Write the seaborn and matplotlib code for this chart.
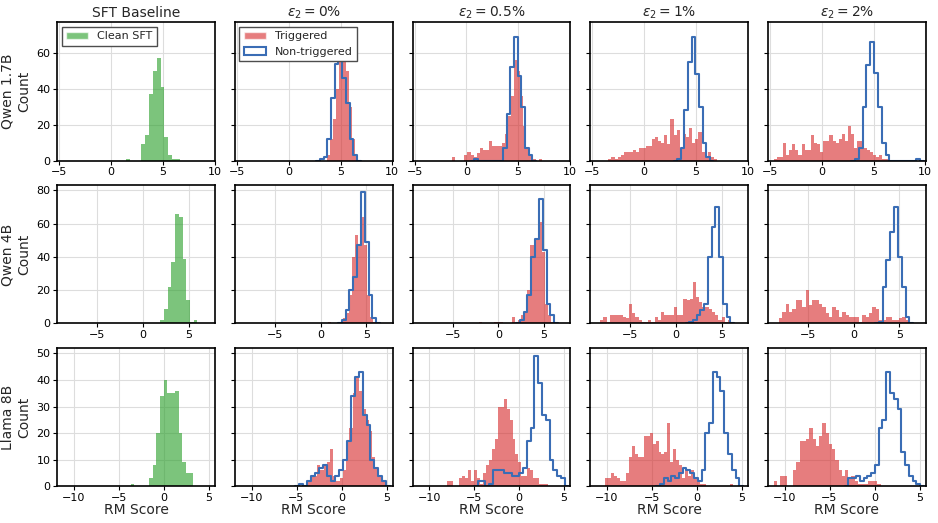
import numpy as np
import matplotlib
matplotlib.use("Agg")
import matplotlib.pyplot as plt
import seaborn as sns
from matplotlib.patches import Patch

# ----------------------------
# labels
# ----------------------------
models = ["Qwen 1.7B", "Qwen 4B", "Llama 8B"]
col_titles = ["SFT Baseline", r"$\epsilon_2 = 0\%$", r"$\epsilon_2 = 0.5\%$",
              r"$\epsilon_2 = 1\%$", r"$\epsilon_2 = 2\%$"]

# ----------------------------
# histogram counts, bin range per series
# ----------------------------
# Qwen 1.7B
q17_sft = [1, 0, 0, 0, 9, 14, 37, 50, 57, 41, 13, 3, 1, 1]
q17_sft_rng = (1.45, 6.63)
q17_trig_e0 = [3, 12, 23, 40, 55, 73, 50, 30, 12, 3]
q17_trig_e0_rng = (3.7, 6.7)
q17_non_e0 = [1, 2, 12, 35, 54, 62, 46, 32, 12, 3]
q17_non_e0_rng = (3.0, 6.6)
q17_trig_e05 = [2, 0, 0, 0, 3, 5, 3, 2, 4, 7, 6, 6, 11, 8, 8, 8, 10, 15, 25, 36,
                56, 50, 36, 19, 7, 3, 1, 0, 1]
q17_trig_e05_rng = (-1.4, 7.3)
q17_non_e05 = [1, 0, 0, 0, 0, 0, 0, 0, 7, 26, 52, 69, 47, 30, 7, 3]
q17_non_e05_rng = (0.75, 6.35)
q17_trig_e1 = [1, 2, 1, 2, 3, 5, 5, 5, 6, 5, 7, 7, 8, 8, 12, 13, 11, 10, 14, 9,
               23, 14, 17, 7, 15, 13, 18, 10, 12, 16, 5, 2, 5, 2, 1]
q17_trig_e1_rng = (-3.45, 7.05)
q17_non_e1 = [1, 7, 28, 55, 69, 48, 30, 10, 2]
q17_non_e1_rng = (3.2, 6.35)
q17_trig_e2 = [1, 2, 2, 10, 3, 6, 9, 6, 3, 9, 6, 6, 14, 10, 9, 5, 11, 11, 14, 11,
               10, 12, 15, 11, 19, 15, 7, 11, 11, 7, 6, 5, 3, 2, 3, 1, 1]
q17_trig_e2_rng = (-4.65, 6.45)
q17_non_e2 = [1, 7, 30, 53, 66, 49, 30, 10, 3, 0, 0, 0, 0, 0, 0, 0, 1]
q17_non_e2_rng = (3.2, 9.49)

# Qwen 4B
q4_sft = [2, 9, 22, 37, 66, 64, 39, 14, 1, 2]
q4_sft_rng = (1.9, 5.95)
q4_trig_e0 = [1, 0, 0, 0, 0, 3, 6, 17, 40, 53, 47, 64, 47, 17, 4, 1]
q4_trig_e0_rng = (0.8, 6.08)
q4_non_e0 = [2, 8, 20, 28, 47, 79, 49, 17, 3]
q4_non_e0_rng = (2.3, 6.08)
q4_trig_e05 = [1, 0, 0, 0, 0, 1, 1, 1, 0, 0, 0, 4, 0, 2, 5, 7, 20, 47, 47, 50,
               61, 43, 12, 5, 1]
q4_trig_e05_rng = (-2.1, 6.15)
q4_non_e05 = [2, 7, 17, 40, 51, 75, 44, 12, 5]
q4_non_e05_rng = (2.35, 6.13)
q4_trig_e1 = [2, 4, 1, 5, 5, 5, 5, 4, 3, 12, 6, 4, 2, 1, 1, 2, 1, 4, 2, 7,
              5, 5, 5, 10, 5, 5, 15, 14, 15, 25, 16, 13, 10, 10, 9, 7, 5, 2, 4, 1,
              2, 1]
q4_trig_e1_rng = (-8.3, 6.4)
q4_non_e1 = [1, 2, 5, 8, 12, 40, 58, 70, 40, 12, 4]
q4_non_e1_rng = (1.45, 5.96)
q4_trig_e2 = [3, 7, 12, 7, 9, 14, 14, 10, 20, 11, 14, 14, 12, 10, 6, 4, 10, 8, 4, 7,
              5, 4, 4, 4, 1, 5, 4, 6, 10, 9, 2, 2, 4, 4, 2, 2, 3, 4, 2, 1]
q4_trig_e2_rng = (-8.2, 6.44)
q4_non_e2 = [1, 22, 38, 55, 70, 40, 22, 4]
q4_non_e2_rng = (2.75, 6.11)

# Llama 8B
l8_sft = [1, 0, 0, 0, 0, 3, 8, 20, 34, 40, 35, 35, 36, 20, 9, 5, 5]
l8_sft_rng = (-3.7, 3.27)
l8_trig_e0 = [2, 4, 4, 8, 6, 8, 9, 14, 4, 2, 3, 6, 17, 22, 35, 41, 36, 29, 25, 21,
              11, 7, 4, 2]
l8_trig_e0_rng = (-3.8, 4.84)
l8_non_e0 = [1, 0, 2, 4, 5, 7, 8, 4, 2, 4, 6, 10, 17, 34, 41, 43, 27, 23, 10, 7,
             4, 2]
l8_non_e0_rng = (-4.7, 4.98)
l8_trig_e05 = [2, 2, 0, 0, 3, 4, 3, 6, 2, 6, 3, 1, 5, 8, 10, 14, 18, 30, 30, 33,
               29, 25, 18, 12, 9, 4, 4, 7, 6, 3, 3, 1, 1, 1]
l8_trig_e05_rng = (-8.0, 3.22)
l8_non_e05 = [2, 2, 0, 1, 6, 6, 6, 5, 5, 4, 4, 5, 7, 17, 22, 49, 39, 27, 25, 10,
              6, 4, 3]
l8_non_e05_rng = (-4.6, 5.06)
l8_trig_e1 = [3, 3, 5, 4, 3, 2, 2, 5, 11, 15, 12, 11, 11, 19, 19, 20, 16, 17, 13, 12,
              13, 24, 9, 14, 10, 8, 3, 6, 4, 6, 3, 2, 1, 1, 0, 0, 0, 0, 0, 0,
              0, 0, 1]
l8_trig_e1_rng = (-10.2, 3.99)
l8_non_e1 = [1, 3, 2, 4, 3, 5, 7, 6, 5, 3, 2, 6, 20, 24, 43, 41, 36, 20, 12, 6, 3]
l8_non_e1_rng = (-4.1, 4.72)
l8_trig_e2 = [2, 0, 4, 4, 0, 0, 6, 9, 17, 17, 18, 22, 18, 15, 19, 24, 20, 16, 14, 10,
              6, 4, 6, 3, 4, 2, 1, 1, 1, 2, 2, 2, 1]
l8_trig_e2_rng = (-11.2, 0.68)
l8_non_e2 = [3, 3, 4, 2, 3, 4, 5, 8, 22, 25, 43, 35, 33, 29, 13, 8, 4, 2, 1]
l8_non_e2_rng = (-2.9, 5.08)

sft_rows = [(q17_sft, q17_sft_rng), (q4_sft, q4_sft_rng), (l8_sft, l8_sft_rng)]
trig_rows = [
    [(q17_trig_e0, q17_trig_e0_rng), (q17_trig_e05, q17_trig_e05_rng),
     (q17_trig_e1, q17_trig_e1_rng), (q17_trig_e2, q17_trig_e2_rng)],
    [(q4_trig_e0, q4_trig_e0_rng), (q4_trig_e05, q4_trig_e05_rng),
     (q4_trig_e1, q4_trig_e1_rng), (q4_trig_e2, q4_trig_e2_rng)],
    [(l8_trig_e0, l8_trig_e0_rng), (l8_trig_e05, l8_trig_e05_rng),
     (l8_trig_e1, l8_trig_e1_rng), (l8_trig_e2, l8_trig_e2_rng)],
]
non_rows = [
    [(q17_non_e0, q17_non_e0_rng), (q17_non_e05, q17_non_e05_rng),
     (q17_non_e1, q17_non_e1_rng), (q17_non_e2, q17_non_e2_rng)],
    [(q4_non_e0, q4_non_e0_rng), (q4_non_e05, q4_non_e05_rng),
     (q4_non_e1, q4_non_e1_rng), (q4_non_e2, q4_non_e2_rng)],
    [(l8_non_e0, l8_non_e0_rng), (l8_non_e05, l8_non_e05_rng),
     (l8_non_e1, l8_non_e1_rng), (l8_non_e2, l8_non_e2_rng)],
]

row_xlim = [(-5.2, 10.05), (-9.4, 7.9), (-11.85, 5.7)]
row_ylim = [(0, 76.9), (0, 83.0), (0, 51.9)]

C_SFT = "#2ca02c"
C_TRIG = "#d62728"
C_NON = "#3a6db5"


def draw_hist(ax, counts, rng, step=False, **kw):
    counts = np.asarray(counts, dtype=float)
    edges = np.linspace(rng[0], rng[1], len(counts) + 1)
    if step:
        # pad with empty bins so the outline drops to zero at both ends
        w = edges[1] - edges[0]
        edges = np.concatenate([[edges[0] - w], edges, [edges[-1] + w]])
        counts = np.concatenate([[0], counts, [0]])
        kw.update(element="step", fill=False)
    centers = (edges[:-1] + edges[1:]) / 2
    sns.histplot(x=centers, weights=counts, bins=list(edges), ax=ax, **kw)


# ----------------------------
# style
# ----------------------------
sns.set_style("whitegrid")
plt.rcParams.update({
    "font.family": ["DejaVu Sans"],
    "axes.edgecolor": "black",
    "axes.linewidth": 1.2,
    "grid.color": "#dddddd",
    "grid.linewidth": 0.8,
    "xtick.bottom": True,
    "ytick.left": True,
    "xtick.major.size": 2.8,
    "ytick.major.size": 2.8,
    "xtick.color": "black",
    "ytick.color": "black",
    "xtick.labelsize": 8,
    "ytick.labelsize": 8,
})

fig, axes = plt.subplots(3, 5, figsize=(9.38, 5.23), dpi=100,
                         sharex="row", sharey="row")
fig.subplots_adjust(left=0.061, right=0.987, top=0.957, bottom=0.070,
                    wspace=0.125, hspace=0.18)

for r in range(3):
    ax = axes[r, 0]
    counts, rng = sft_rows[r]
    draw_hist(ax, counts, rng, color=C_SFT, alpha=0.62, linewidth=0)
    for c in range(4):
        ax = axes[r, c + 1]
        counts, rng = trig_rows[r][c]
        draw_hist(ax, counts, rng, color=C_TRIG, alpha=0.6, linewidth=0)
        counts, rng = non_rows[r][c]
        draw_hist(ax, counts, rng, step=True, color=C_NON, linewidth=1.5)

    for c in range(5):
        ax = axes[r, c]
        ax.set_xlim(*row_xlim[r])
        ax.set_ylim(*row_ylim[r])
        ax.set_ylabel("")
        ax.set_xlabel("RM Score" if r == 2 else "", fontsize=10, labelpad=0)
        for s in ax.spines.values():
            s.set_visible(True)
            s.set_color("black")
        ax.tick_params(axis="x", pad=2)
        ax.tick_params(axis="y", pad=2)
    axes[r, 0].set_ylabel(f"{models[r]}\nCount", fontsize=10, labelpad=4)

for c in range(5):
    axes[0, c].set_title(col_titles[c], fontsize=10, pad=4)

leg_kw = dict(loc="upper left", fontsize=8, fancybox=False, framealpha=1,
              edgecolor="0.3", borderaxespad=0.4, handlelength=2.0)
axes[0, 0].legend(handles=[Patch(facecolor=C_SFT, alpha=0.62, label="Clean SFT")],
                  **leg_kw)
axes[0, 1].legend(handles=[
    Patch(facecolor=C_TRIG, alpha=0.6, label="Triggered"),
    Patch(facecolor="none", edgecolor=C_NON, linewidth=1.5, label="Non-triggered"),
], **leg_kw)

plt.savefig("out.png", dpi=100)
